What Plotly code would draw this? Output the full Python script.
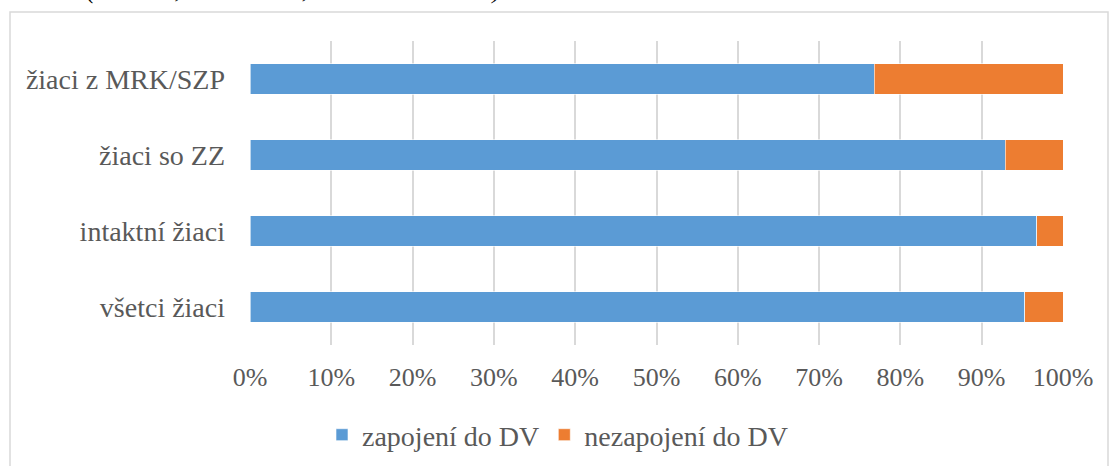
import plotly.graph_objects as go

categories = ["všetci žiaci", "intaktní žiaci", "žiaci so ZZ", "žiaci z MRK/SZP"]
zapojeni = [95.3, 96.8, 92.9, 76.8]
nezapojeni = [round(100 - v, 1) for v in zapojeni]
tick_vals = list(range(0, 101, 10))
tick_text = [f"{v}%" for v in tick_vals]

W, H = 1112, 466
L, R, T, B = 250, 49, 41, 121
pw, ph = W - L - R, H - T - B

def px_x(p):
    return (p - L) / pw

def px_y(p):
    return (H - B - p) / ph

font_family = "Liberation Serif"
grey = "#595959"

fig = go.Figure()
fig.add_trace(go.Bar(
    y=categories, x=zapojeni, name="zapojení do DV", orientation="h",
    marker=dict(color="#5B9BD5", line=dict(color="white", width=0.6)),
))
fig.add_trace(go.Bar(
    y=categories, x=nezapojeni, name="nezapojení do DV", orientation="h",
    marker=dict(color="#ED7D31", line=dict(color="white", width=0.6)),
))

fig.update_layout(
    barmode="stack",
    bargap=0.605,
    width=W, height=H,
    margin=dict(l=L, r=R, t=T, b=B, autoexpand=False),
    paper_bgcolor="white", plot_bgcolor="white",
    font=dict(family=font_family, size=28, color=grey),
    showlegend=True,
    legend=dict(
        orientation="h", x=px_x(558), xanchor="center",
        y=px_y(435), yanchor="middle",
        font=dict(family=font_family, size=28, color=grey),
        itemwidth=30, traceorder="normal",
    ),
    xaxis=dict(
        range=[0, 100], tickvals=tick_vals, ticktext=tick_text,
        showgrid=True, gridcolor="#d9d9d9", gridwidth=2,
        zeroline=False, showline=False, ticks="",
        ticklabelstandoff=14,
        tickfont=dict(family=font_family, size=26, color=grey),
        fixedrange=True,
    ),
    yaxis=dict(
        categoryorder="array", categoryarray=categories,
        showgrid=False, zeroline=False, showline=False, ticks="",
        ticklabelstandoff=24,
        tickfont=dict(family=font_family, size=28, color=grey),
        fixedrange=True,
    ),
    shapes=[dict(
        type="rect", xref="paper", yref="paper",
        x0=px_x(10), x1=px_x(1108), y0=px_y(480), y1=px_y(12),
        line=dict(color="#d9d9d9", width=1.5), fillcolor="rgba(0,0,0,0)",
        layer="below",
    )],
    annotations=[dict(
        text="<i>št. ukaz (intaktní, žiaci so ZZ, žiaci z MRK/SZP)</i>",
        xref="paper", yref="paper", x=px_x(0), y=px_y(6),
        xanchor="left", yanchor="bottom", showarrow=False,
        font=dict(family=font_family, size=26, color="black"),
    )],
)

fig.write_html("out.html", config={"displayModeBar": False},
               post_script="document.body.style.margin='0';")
